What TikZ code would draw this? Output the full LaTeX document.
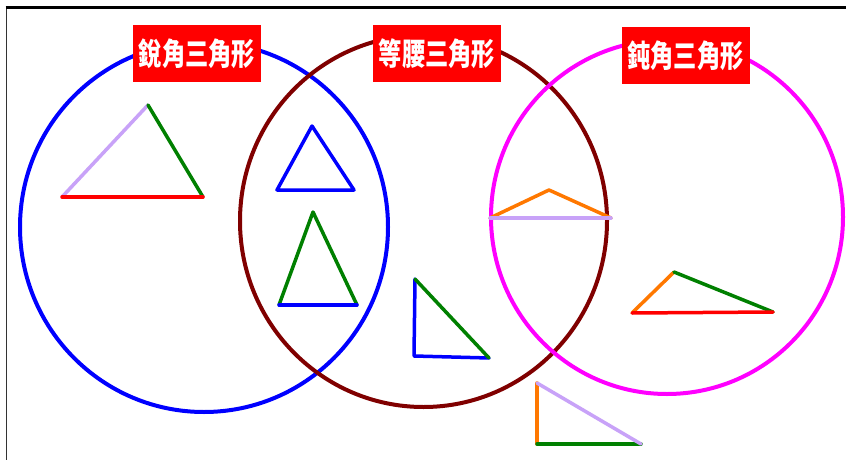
\documentclass[tikz,border=0pt]{standalone}
\usepackage{fontspec}
\newfontfamily\cjk{Noto Sans CJK TC}
\usetikzlibrary{shapes.geometric}
\definecolor{brn}{RGB}{128,0,0}
\definecolor{lav}{RGB}{200,162,248}
\definecolor{org}{RGB}{255,120,0}
\definecolor{grn}{RGB}{0,128,0}
\definecolor{mag}{RGB}{255,0,255}
\definecolor{blu}{RGB}{0,0,255}
\definecolor{rd}{RGB}{255,0,0}
\tikzset{
  ring/.style={ellipse, draw, line width=4pt, inner sep=0pt},
  lbl/.style={fill=rd, text=white, minimum width=128pt, minimum height=57pt, inner sep=0pt,
    font=\cjk\bfseries\fontsize{31}{31}\selectfont},
  edge/.style={line width=3.5pt, line cap=round, line join=round}
}
\newcommand{\lbltext}[1]{\scalebox{0.75}[1]{#1}}
\begin{document}
\begin{tikzpicture}[x=1pt,y=-1pt]
\useasboundingbox (0,0) rectangle (846,460);
\clip (0,0) rectangle (846,460);
\fill[white] (0,0) rectangle (846,460);
% frame
\draw[line width=1.8pt, black!80] (6.5,470) -- (6.5,7.5);
\draw[line width=2.2pt] (5.5,7.5) -- (860,7.5);
% circles
\node[ring, draw=blu, minimum width=368pt, minimum height=370pt] (acute) at (204,227) {};
\node[ring, draw=brn, minimum width=367pt, minimum height=372pt] (isos) at (423.5,221) {};
\node[ring, draw=mag, minimum width=352pt, minimum height=354pt] (obtuse) at (667,217) {};
% labels
\node[lbl] (lacute) at (197,53.5) {\lbltext{銳角三角形}};
\node[lbl] (lisos) at (437,54) {\lbltext{等腰三角形}};
\node[lbl] (lobtuse) at (685.5,55.5) {\lbltext{鈍角三角形}};
% triangle A
\coordinate (a1) at (148,105); \coordinate (a2) at (62,197); \coordinate (a3) at (203,197);
\draw[edge, lav] (a2) -- (a1);
\draw[edge, grn] (a1) -- (a3);
\draw[edge, rd] (a2) -- (a3);
% triangle B
\coordinate (b1) at (312,126); \coordinate (b2) at (277,190); \coordinate (b3) at (354,190);
\draw[edge, blu] (b1) -- (b2) -- (b3) -- cycle;
% triangle C
\coordinate (c1) at (313,212); \coordinate (c2) at (279,305); \coordinate (c3) at (357,305);
\draw[edge, grn] (c2) -- (c1) -- (c3);
\draw[edge, blu] (c2) -- (c3);
% triangle D
\coordinate (d1) at (415,279); \coordinate (d2) at (414,356); \coordinate (d3) at (489,358);
\draw[edge, blu] (d1) -- (d2) -- (d3);
\draw[edge, grn] (d1) -- (d3);
% triangle E
\coordinate (e1) at (490,218); \coordinate (e2) at (549,190); \coordinate (e3) at (611,218);
\draw[edge, org] (e1) -- (e2) -- (e3);
\draw[edge, lav] (e1) -- (e3);
% triangle F
\coordinate (f1) at (632,313); \coordinate (f2) at (674,272); \coordinate (f3) at (773,312);
\draw[edge, org] (f1) -- (f2);
\draw[edge, grn] (f2) -- (f3);
\draw[edge, rd] (f1) -- (f3);
% triangle G
\coordinate (g1) at (537,383); \coordinate (g2) at (537,444); \coordinate (g3) at (641,444);
\draw[edge, org] (g1) -- (g2);
\draw[edge, grn] (g2) -- (g3);
\draw[edge, lav] (g1) -- (g3);
\end{tikzpicture}
\end{document}
